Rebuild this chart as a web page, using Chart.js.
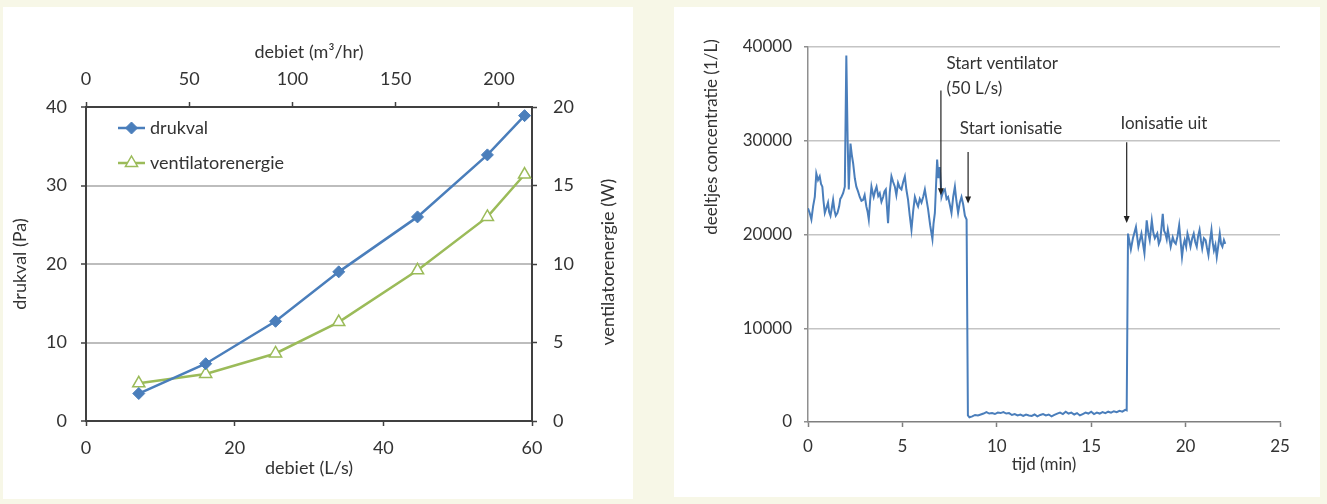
<!DOCTYPE html>
<html lang="nl">
<head>
<meta charset="UTF-8">
<title>Drukval en deeltjesconcentratie</title>
<script src="https://cdn.jsdelivr.net/npm/chart.js"></script>
<style>
  body { margin: 0; background: #f7f7e7; width: 1327px; height: 504px; position: relative; overflow: hidden; }
  .panel { position: absolute; background: #fff; }
  .panel canvas { display: block; }
  #leftPanel { left: 3px; top: 7px; width: 630px; height: 492px; }
  #rightPanel { left: 674px; top: 7px; width: 646px; height: 490px; }
</style>
</head>
<body>
<div class="panel" id="leftPanel"><canvas id="drukChart" width="630" height="492"></canvas></div>
<div class="panel" id="rightPanel"><canvas id="concChart" width="646" height="490"></canvas></div>

<script>
  // --- left chart: drukval / ventilatorenergie against debiet ---
  const debiet = [7.1, 16.1, 25.5, 34.0, 44.6, 54.0, 59.0];        // L/s
  const drukval = [3.5, 7.3, 12.7, 19.0, 26.0, 33.9, 38.9];         // Pa
  const ventilatorenergie = [2.4, 3.0, 4.3, 6.3, 9.6, 13.0, 15.7];  // W

  // --- right chart: particle concentration over time ---
  const tijd = [
    0.00, 0.09, 0.18, 0.27, 0.36, 0.44, 0.53, 0.62, 0.69, 0.76, 0.82, 0.89, 0.97, 1.06, 1.12, 1.19,
    1.26, 1.33, 1.40, 1.47, 1.56, 1.65, 1.71, 1.77, 1.86, 1.95, 2.03, 2.10, 2.16, 2.25, 2.32, 2.39,
    2.48, 2.56, 2.65, 2.74, 2.83, 2.92, 3.00, 3.09, 3.16, 3.22, 3.29, 3.36, 3.42, 3.48, 3.56, 3.63,
    3.72, 3.80, 3.89, 3.98, 4.05, 4.12, 4.18, 4.24, 4.33, 4.42, 4.51, 4.60, 4.68, 4.77, 4.86, 4.95,
    5.04, 5.13, 5.21, 5.30, 5.39, 5.48, 5.57, 5.66, 5.75, 5.83, 5.92, 6.01, 6.10, 6.19, 6.27, 6.36,
    6.47, 6.59, 6.65, 6.72, 6.84, 6.91, 6.98, 7.07, 7.16, 7.25, 7.34, 7.42, 7.51, 7.60, 7.69, 7.78,
    7.86, 7.95, 8.04, 8.13, 8.22, 8.31, 8.40, 8.47, 8.55,
    8.70, 8.85, 9.00, 9.15, 9.30, 9.45, 9.60, 9.75, 9.90, 10.05, 10.20, 10.35, 10.50, 10.65, 10.80,
    10.95, 11.10, 11.25, 11.40, 11.55, 11.70, 11.85, 12.00, 12.15, 12.30, 12.45, 12.60, 12.75, 12.90,
    13.05, 13.20, 13.35, 13.50, 13.65, 13.80, 13.95, 14.10, 14.25, 14.40, 14.55, 14.70, 14.85, 15.00,
    15.15, 15.30, 15.45, 15.60, 15.75, 15.90, 16.05, 16.20, 16.35, 16.50, 16.65, 16.80, 16.88,
    16.95, 17.10, 17.21, 17.37, 17.50, 17.66, 17.82, 17.94, 18.02, 18.10, 18.21, 18.29, 18.37, 18.50,
    18.58, 18.66, 18.79, 18.86, 18.93, 19.00, 19.06, 19.13, 19.21, 19.32, 19.40, 19.48, 19.57, 19.66,
    19.74, 19.81, 19.88, 19.95, 20.03, 20.10, 20.18, 20.26, 20.35, 20.43, 20.51, 20.59, 20.66, 20.74,
    20.81, 20.88, 20.97, 21.06, 21.13, 21.21, 21.29, 21.37, 21.43, 21.50, 21.58, 21.65, 21.73, 21.81,
    21.88, 21.95, 22.03, 22.10
  ];
  const concentratie = [
    22800, 22300, 21600, 23000, 24000, 26500, 25800, 26200, 25400, 25100, 23600, 22300, 22800, 23400, 22400, 22000,
    22800, 23700, 22600, 22000, 22300, 23000, 23800, 24000, 24400, 25100, 39100, 30000, 24800, 29700, 28500, 27600,
    26000, 25100, 24600, 24000, 23600, 23700, 24200, 23000, 22400, 21600, 23600, 25100, 24500, 24000, 24700, 25100,
    24100, 24400, 23500, 24000, 24600, 24800, 23000, 21200, 24500, 26200, 25600, 25100, 24200, 25500, 25000, 24800,
    25600, 26200, 24800, 23700, 22000, 20500, 22500, 24000, 23400, 23000, 23800, 23400, 24000, 24800, 23800, 22700,
    21000, 19500, 21200, 22300, 28000, 26000, 27200, 24000, 24600, 24800, 23800, 24000, 23200, 22300, 24000, 25100,
    23600, 22300, 23400, 24000, 23200, 22000, 21600, 700, 500,
    600, 750, 700, 800, 900, 1050, 900, 950, 850, 1000, 950, 1050, 900, 950, 750,
    850, 700, 800, 650, 800, 700, 650, 800, 600, 750, 850, 700, 800, 600,
    750, 900, 1000, 850, 1100, 900, 1000, 800, 950, 700, 850, 1000, 900, 1100,
    850, 1000, 900, 1050, 950, 1100, 1000, 1150, 1050, 1200, 1100, 1300, 1250,
    20100, 18400, 19600, 20800, 18700, 20100, 18000, 21500, 20200, 19400, 21500, 20200, 19600, 20100,
    19000, 19400, 22200, 20400, 20100, 19500, 20500, 19700, 18700, 19700, 19200, 19000, 19800, 21000,
    19200, 17600, 18800, 19400, 18700, 20100, 19500, 18700, 19600, 20100, 19200, 18700, 19800, 20500,
    19400, 18500, 19600, 19400, 18600, 17800, 19300, 20500, 19200, 18300, 18900, 17600, 18800, 20100,
    19000, 18700, 19400, 19000
  ];

  // arrow annotations (time, concentration)
  const annotations = [
    { lines: ['Start ventilator', '(50 L/s)'], textT: 7.33, textV: [38200, 35540], arrowT: 7.04, fromV: 35360, toV: 24200 },
    { lines: ['Start ionisatie'], textT: 8.04, textV: [31280], arrowT: 8.48, fromV: 28790, toV: 23300 },
    { lines: ['Ionisatie uit'], textT: 16.55, textV: [31880], arrowT: 16.88, fromV: 29850, toV: 21230 }
  ];

  const FONT = 'Lato, "Open Sans", sans-serif';
  const TEXT = '#333';
  const BLUE = '#4a7ebb';
  const GREEN = '#9bbb59';
  const DARK = '#404040';

  // small legend drawn inside the plot, line + marker like the original
  const insideLegend = {
    id: 'insideLegend',
    afterDraw(chart) {
      const { ctx, chartArea } = chart;
      chart.data.datasets.forEach((ds, i) => {
        const y = chartArea.top + 21 + i * 35;
        const x0 = chartArea.left + 32, x1 = chartArea.left + 59, xm = (x0 + x1) / 2;
        ctx.save();
        ctx.strokeStyle = ds.borderColor;
        ctx.lineWidth = ds.borderWidth;
        ctx.beginPath(); ctx.moveTo(x0, y); ctx.lineTo(x1, y); ctx.stroke();
        const r = ds.pointRadius;
        ctx.beginPath();
        if (ds.pointStyle === 'rectRot') {
          ctx.moveTo(xm, y - r); ctx.lineTo(xm + r, y); ctx.lineTo(xm, y + r); ctx.lineTo(xm - r, y);
        } else {
          ctx.moveTo(xm, y - r); ctx.lineTo(xm + r * 0.866, y + r / 2); ctx.lineTo(xm - r * 0.866, y + r / 2);
        }
        ctx.closePath();
        ctx.fillStyle = ds.pointBackgroundColor;
        ctx.fill();
        ctx.lineWidth = ds.pointBorderWidth;
        ctx.strokeStyle = ds.pointBorderColor;
        ctx.stroke();
        ctx.fillStyle = TEXT;
        ctx.font = '18px ' + FONT;
        ctx.textBaseline = 'middle';
        ctx.fillText(ds.label, chartArea.left + 64, y);
        ctx.restore();
      });
      // right axis title reads bottom-to-top like the left one
      const y2 = chart.scales.y2;
      ctx.save();
      ctx.translate(y2.right - 25, (chartArea.top + chartArea.bottom) / 2 - 2);
      ctx.rotate(-Math.PI / 2);
      ctx.fillStyle = TEXT;
      ctx.font = '18px ' + FONT;
      ctx.textAlign = 'center';
      ctx.textBaseline = 'middle';
      ctx.fillText('ventilatorenergie (W)', 0, 0);
      ctx.restore();
    }
  };

  const tickFont = { family: FONT, size: 18 };

  new Chart(document.getElementById('drukChart').getContext('2d'), {
    type: 'line',
    data: {
      datasets: [{
        label: 'drukval',
        data: debiet.map((d, i) => ({ x: d, y: drukval[i] })),
        xAxisID: 'x', yAxisID: 'y',
        borderColor: BLUE, borderWidth: 2.5,
        pointStyle: 'rectRot', pointRadius: 6,
        pointBackgroundColor: BLUE, pointBorderColor: BLUE, pointBorderWidth: 1
      }, {
        label: 'ventilatorenergie',
        data: debiet.map((d, i) => ({ x: d, y: ventilatorenergie[i] })),
        xAxisID: 'x', yAxisID: 'y2',
        borderColor: GREEN, borderWidth: 2.5,
        pointStyle: 'triangle', pointRadius: 7,
        pointBackgroundColor: '#fff', pointBorderColor: GREEN, pointBorderWidth: 1.5
      }]
    },
    options: {
      responsive: false,
      animation: false,
      layout: { padding: 0 },
      plugins: { legend: { display: false }, tooltip: { enabled: false } },
      scales: {
        x: {
          type: 'linear', position: 'bottom', min: 0, max: 60,
          afterFit: s => { s.height = 78; },
          ticks: { stepSize: 20, font: tickFont, color: TEXT, padding: 11 },
          grid: { drawOnChartArea: false, tickLength: 5, tickColor: DARK, tickWidth: 1.5 },
          border: { color: DARK, width: 2 },
          title: { display: true, text: 'debiet (L/s)', font: tickFont, color: TEXT, padding: { bottom: 20 } }
        },
        x2: {
          type: 'linear', position: 'top', min: 0, max: 216,
          afterFit: s => { s.height = 100; },
          ticks: { stepSize: 50, includeBounds: false, font: tickFont, color: TEXT, padding: 12 },
          grid: { drawOnChartArea: false, tickLength: 5, tickColor: DARK, tickWidth: 1.5 },
          border: { color: DARK, width: 2 },
          title: { display: true, text: 'debiet (m³/hr)', font: tickFont, color: TEXT, padding: { top: 34 } }
        },
        y: {
          position: 'left', min: 0, max: 40,
          afterFit: s => { s.width = 83; },
          ticks: { stepSize: 10, font: tickFont, color: TEXT, padding: 14 },
          grid: {
            color: c => (c.tick && c.tick.value > 0 && c.tick.value < 40) ? '#bdbdbd' : 'rgba(0,0,0,0)',
            lineWidth: 2, tickLength: 5, tickColor: DARK, tickWidth: 1.5
          },
          border: { color: DARK, width: 2 },
          title: { display: true, text: 'drukval (Pa)', font: tickFont, color: TEXT, padding: { top: 6 } }
        },
        y2: {
          position: 'right', min: 0, max: 20,
          afterFit: s => { s.width = 101; },
          ticks: { stepSize: 5, font: tickFont, color: TEXT, padding: 16 },
          grid: { drawOnChartArea: false, tickLength: 5, tickColor: DARK, tickWidth: 1.5 },
          border: { color: DARK, width: 2 }
        }
      }
    },
    plugins: [insideLegend]
  });

  // arrows and labels on the concentration chart, plus the y title placed high like the original
  const arrowPlugin = {
    id: 'arrowNotes',
    afterDatasetsDraw(chart) {
      const { ctx, scales: { x, y }, chartArea } = chart;
      ctx.save();
      ctx.strokeStyle = '#222';
      ctx.fillStyle = '#222';
      ctx.lineWidth = 1.2;
      annotations.forEach(a => {
        const ax = x.getPixelForValue(a.arrowT);
        const y0 = y.getPixelForValue(a.fromV), y1 = y.getPixelForValue(a.toV);
        ctx.beginPath(); ctx.moveTo(ax, y0); ctx.lineTo(ax, y1 - 5); ctx.stroke();
        ctx.beginPath(); ctx.moveTo(ax, y1); ctx.lineTo(ax - 3, y1 - 7); ctx.lineTo(ax + 3, y1 - 7); ctx.closePath(); ctx.fill();
      });
      ctx.fillStyle = TEXT;
      ctx.font = '17px ' + FONT;
      ctx.textBaseline = 'middle';
      annotations.forEach(a => {
        a.lines.forEach((t, i) => ctx.fillText(t, x.getPixelForValue(a.textT), y.getPixelForValue(a.textV[i])));
      });
      ctx.translate(y.left + 38, chartArea.top + 90);
      ctx.rotate(-Math.PI / 2);
      ctx.textAlign = 'center';
      ctx.fillText('deeltjes concentratie (1/L)', 0, 0);
      ctx.restore();
    }
  };

  const concFont = { family: FONT, size: 17 };

  new Chart(document.getElementById('concChart').getContext('2d'), {
    type: 'line',
    data: {
      datasets: [{
        label: 'deeltjes concentratie',
        data: tijd.map((t, i) => ({ x: t, y: concentratie[i] })),
        borderColor: BLUE, borderWidth: 2,
        pointRadius: 0, tension: 0
      }]
    },
    options: {
      responsive: false,
      animation: false,
      layout: { padding: { top: 40, right: 40, left: 0, bottom: 0 } },
      plugins: { legend: { display: false }, tooltip: { enabled: false } },
      scales: {
        x: {
          type: 'linear', min: 0, max: 25,
          afterFit: s => { s.height = 75; },
          ticks: { stepSize: 5, font: concFont, color: TEXT, padding: 9 },
          grid: { drawOnChartArea: false, tickLength: 5, tickColor: '#7f7f7f', tickWidth: 1.5 },
          border: { color: '#7f7f7f', width: 1.5 },
          title: { display: true, text: 'tijd (min)', font: concFont, color: TEXT, padding: { bottom: 22 } }
        },
        y: {
          min: 0, max: 40000,
          afterFit: s => { s.width = 134; },
          ticks: { stepSize: 10000, font: concFont, color: TEXT, padding: 12, callback: v => String(v) },
          grid: {
            color: c => (c.tick && c.tick.value > 0) ? '#c4c4c4' : 'rgba(0,0,0,0)',
            lineWidth: 1.5, tickLength: 4, tickColor: '#8f8f8f', tickWidth: 1.5
          },
          border: { color: '#8f8f8f', width: 1.5 }
        }
      }
    },
    plugins: [arrowPlugin]
  });
</script>
</body>
</html>
